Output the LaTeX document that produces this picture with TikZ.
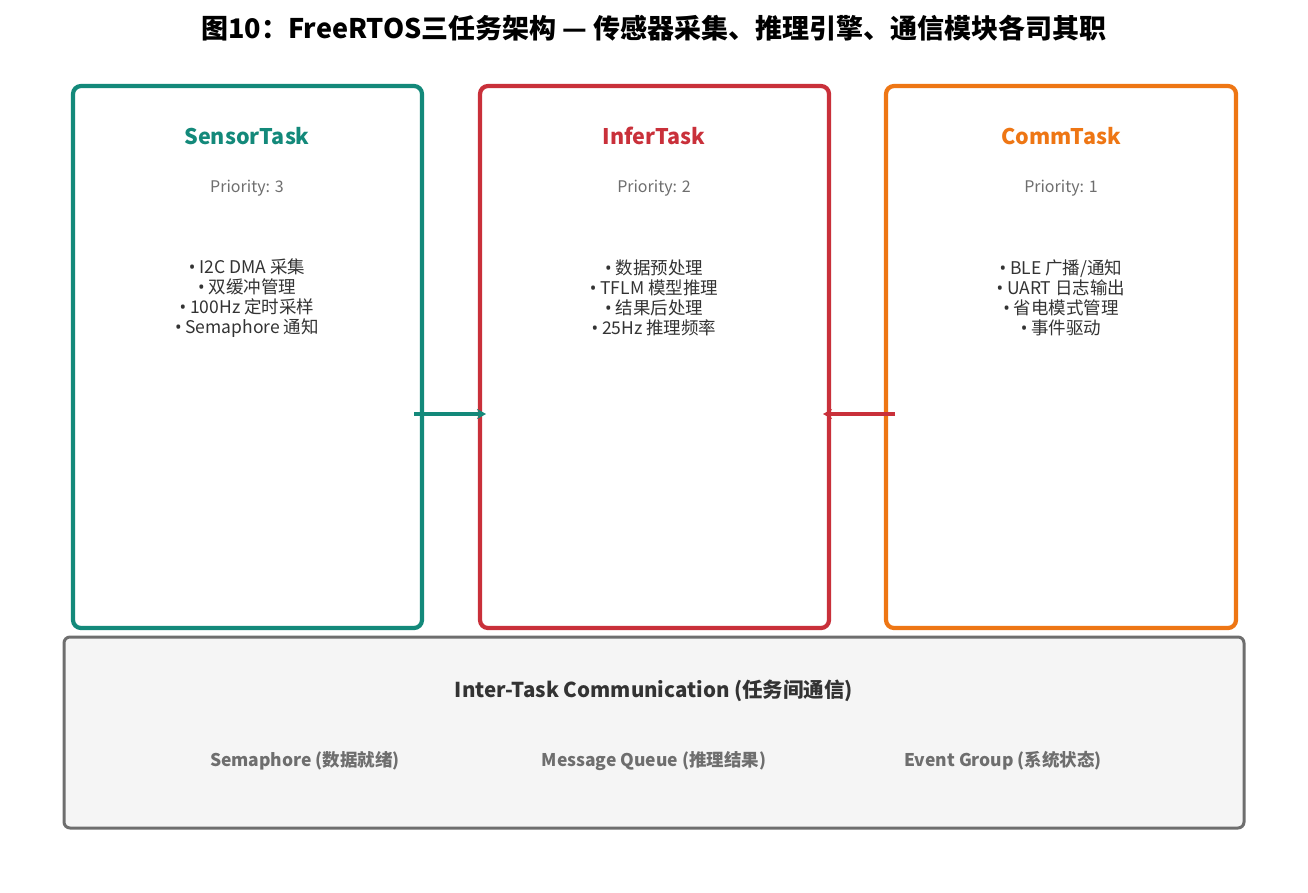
\documentclass[tikz,border=0pt]{standalone}
\usepackage{fontspec}
\setmainfont{Noto Sans CJK SC}
\newfontfamily\lat{Noto Sans}
\newcommand{\bu}{{\lat •}\ }
\usetikzlibrary{arrows.meta}
\definecolor{teal1}{HTML}{13897A}
\definecolor{red1}{HTML}{C9303A}
\definecolor{org1}{HTML}{EE7614}
\definecolor{gry}{HTML}{6E6E6E}
\definecolor{txt}{HTML}{333333}
\tikzset{task/.style={draw=#1,line width=4.2pt,rounded corners=8pt,fill=white},
 ttl/.style={font=\fontsize{21.5}{24}\selectfont\bfseries},
 prio/.style={font=\fontsize{16}{18}\selectfont,text=gry},
 bul/.style={font=\fontsize{17.5}{20}\selectfont,text=txt,align=center},
 lbl/.style={font=\fontsize{17.5}{20}\selectfont\bfseries,text=gry}}
\begin{document}
\begin{tikzpicture}[x=1pt,y=-1pt]
\useasboundingbox (0,0) rectangle (1308,892);
\node[font=\fontsize{27}{30}\selectfont\bfseries] (t) at (654,28) {图10：FreeRTOS三任务架构 — 传感器采集、推理引擎、通信模块各司其职};
\draw[task=teal1] (73,86) rectangle (422,628);
\draw[task=red1] (480,86) rectangle (829,628);
\draw[task=org1] (886,86) rectangle (1236,628);
\coordinate (s) at (414,414); \coordinate (i) at (486,414);
\coordinate (c) at (895,414); \coordinate (i2) at (823,414);
\draw[teal1,line width=3.2pt,-{Stealth[length=9pt,width=10pt]}] (s) -- (i);
\draw[red1,line width=3.2pt,-{Stealth[length=9pt,width=10pt]}] (c) -- (i2);
\node[ttl,text=teal1] (st) at (247,136) {SensorTask};
\node[ttl,text=red1] (it) at (654,136) {InferTask};
\node[ttl,text=org1] (ct) at (1061,136) {CommTask};
\node[prio] (sp) at (247,188) {Priority: 3};
\node[prio] (ip) at (654,188) {Priority: 2};
\node[prio] (cp) at (1061,188) {Priority: 1};
\node[bul] (sb) at (247,298) {\bu I2C DMA 采集\\\bu 双缓冲管理\\\bu 100Hz 定时采样\\\bu Semaphore 通知};
\node[bul] (ib) at (654,298) {\bu 数据预处理\\\bu TFLM 模型推理\\\bu 结果后处理\\\bu 25Hz 推理频率};
\node[bul] (cb) at (1061,298) {\bu BLE 广播/通知\\\bu UART 日志输出\\\bu 省电模式管理\\\bu 事件驱动};
\draw[draw=gry,line width=3pt,rounded corners=6pt,fill=black!4] (64,637) rectangle (1244,828);
\node[font=\fontsize{20.5}{24}\selectfont\bfseries,text=txt] (h) at (654,691) {Inter-Task Communication (任务间通信)};
\node[lbl] (l1) at (305,761) {Semaphore (数据就绪)};
\node[lbl] (l2) at (654,761) {Message Queue (推理结果)};
\node[lbl] (l3) at (1003,761) {Event Group (系统状态)};
\end{tikzpicture}
\end{document}
